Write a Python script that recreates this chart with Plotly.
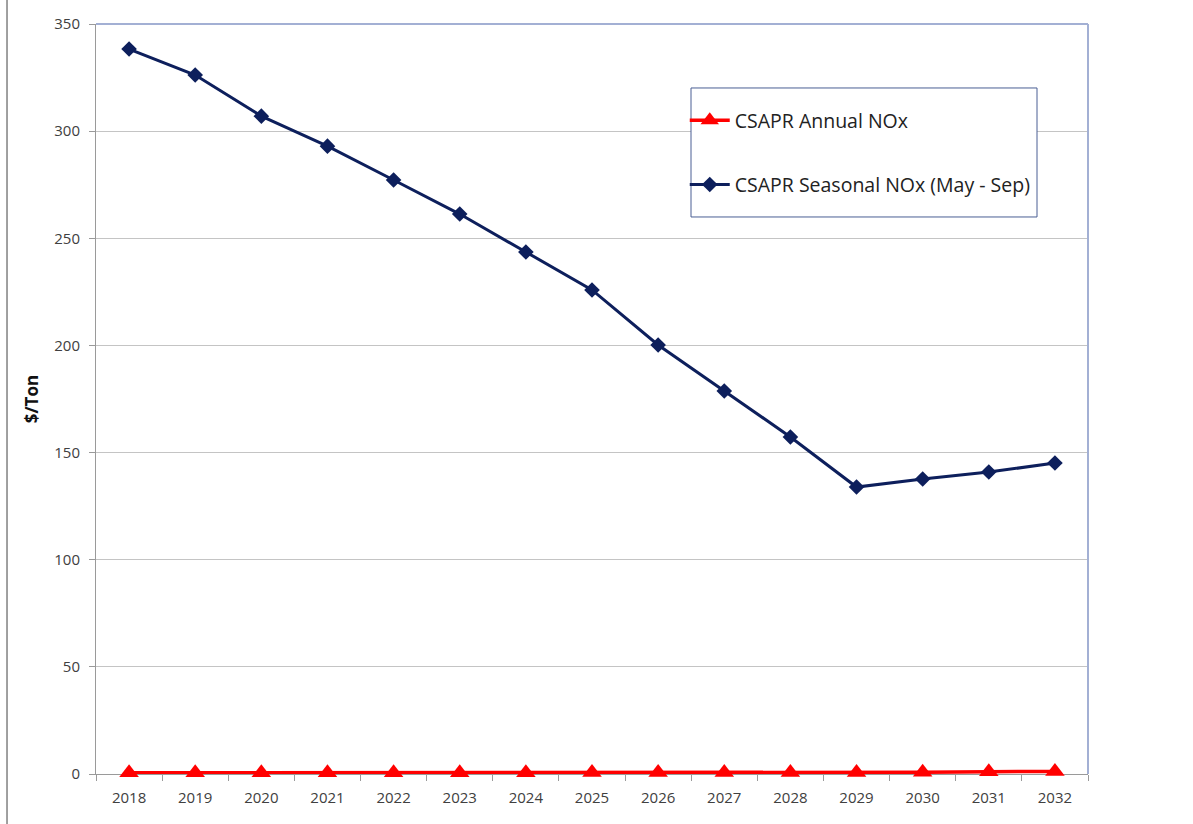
import plotly.graph_objects as go

years = ["2018", "2019", "2020", "2021", "2022", "2023", "2024", "2025",
         "2026", "2027", "2028", "2029", "2030", "2031", "2032"]
annual_nox = [0.6, 0.6, 0.6, 0.6, 0.6, 0.6, 0.6, 0.7, 0.7, 0.7, 0.7, 0.7, 0.8, 1.1, 1.2]
seasonal_nox = [338.3, 326.2, 307.0, 293.0, 277.2, 261.3, 243.6, 225.9,
                200.2, 178.7, 157.3, 133.9, 137.7, 140.9, 145.1]
y_ticks = [0, 50, 100, 150, 200, 250, 300, 350]

FONT = "Open Sans, Noto Sans, sans-serif"

fig = go.Figure()
fig.add_trace(go.Scatter(
    x=years, y=annual_nox, name="CSAPR Annual NOx", mode="lines+markers",
    line=dict(color="#ff0000", width=3.5),
    marker=dict(symbol="triangle-up", size=17, color="#ff0000"),
    legendgroup="a", cliponaxis=False,
))
fig.add_trace(go.Scatter(
    x=years, y=seasonal_nox, name="CSAPR Seasonal NOx (May - Sep)", mode="lines+markers",
    line=dict(color="#0d1f5c", width=3),
    marker=dict(symbol="diamond", size=12, color="#0d1f5c"),
    legendgroup="b", cliponaxis=False,
))

fig.update_layout(
    width=1193, height=824,
    margin=dict(l=96, r=105, t=24, b=50, autoexpand=False),
    paper_bgcolor="white", plot_bgcolor="white",
    font=dict(family=FONT, size=15, color="#404040"),
    showlegend=True,
    legend=dict(
        x=0.5935, y=0.8973, xanchor="left", yanchor="top",
        borderwidth=0, bgcolor="rgba(0,0,0,0)",
        font=dict(family=FONT, size=19.5, color="#222222"),
        tracegroupgap=36, itemwidth=40,
    ),
    xaxis=dict(
        type="category", range=[-0.5, len(years) - 0.5],
        tickson="boundaries", ticks="outside", ticklen=6,
        tickcolor="#9a9a9a", showline=True, linecolor="#9a9a9a", linewidth=1,
        showgrid=False, tickfont=dict(size=15, color="#404040"),
        ticklabelstandoff=10, layer="below traces",
    ),
    yaxis=dict(
        range=[0, 350], tickvals=y_ticks, ticks="outside", ticklen=6,
        tickcolor="#9a9a9a", showline=True, linecolor="#9a9a9a", linewidth=1,
        showgrid=True, gridcolor="#c4c4c4", gridwidth=1, zeroline=False,
        tickfont=dict(size=15, color="#404040"),
        ticklabelstandoff=6, layer="below traces",
        title=dict(text="<b>$/Ton</b>", font=dict(size=17, color="#111111"), standoff=11),
    ),
    shapes=[
        dict(type="line", xref="paper", yref="paper", x0=0, x1=1, y0=1, y1=1,
             line=dict(color="#a3b0d4", width=2)),
        dict(type="line", xref="paper", yref="paper", x0=1, x1=1, y0=0, y1=1,
             line=dict(color="#a3b0d4", width=2)),
        dict(type="line", xref="paper", yref="paper", x0=-0.0897, x1=-0.0897,
             y0=-0.07, y1=1.04, line=dict(color="#808080", width=1.5)),
        dict(type="rect", xref="paper", yref="paper", x0=0.5998, x1=0.9486,
             y0=0.7427, y1=0.9147, layer="above", fillcolor="white",
             line=dict(color="#4a5f94", width=1)),
    ],
)

fig.write_html(
    "out.html",
    config={"displayModeBar": False},
    post_script="document.body.style.margin='0';document.body.style.overflow='hidden';",
)
